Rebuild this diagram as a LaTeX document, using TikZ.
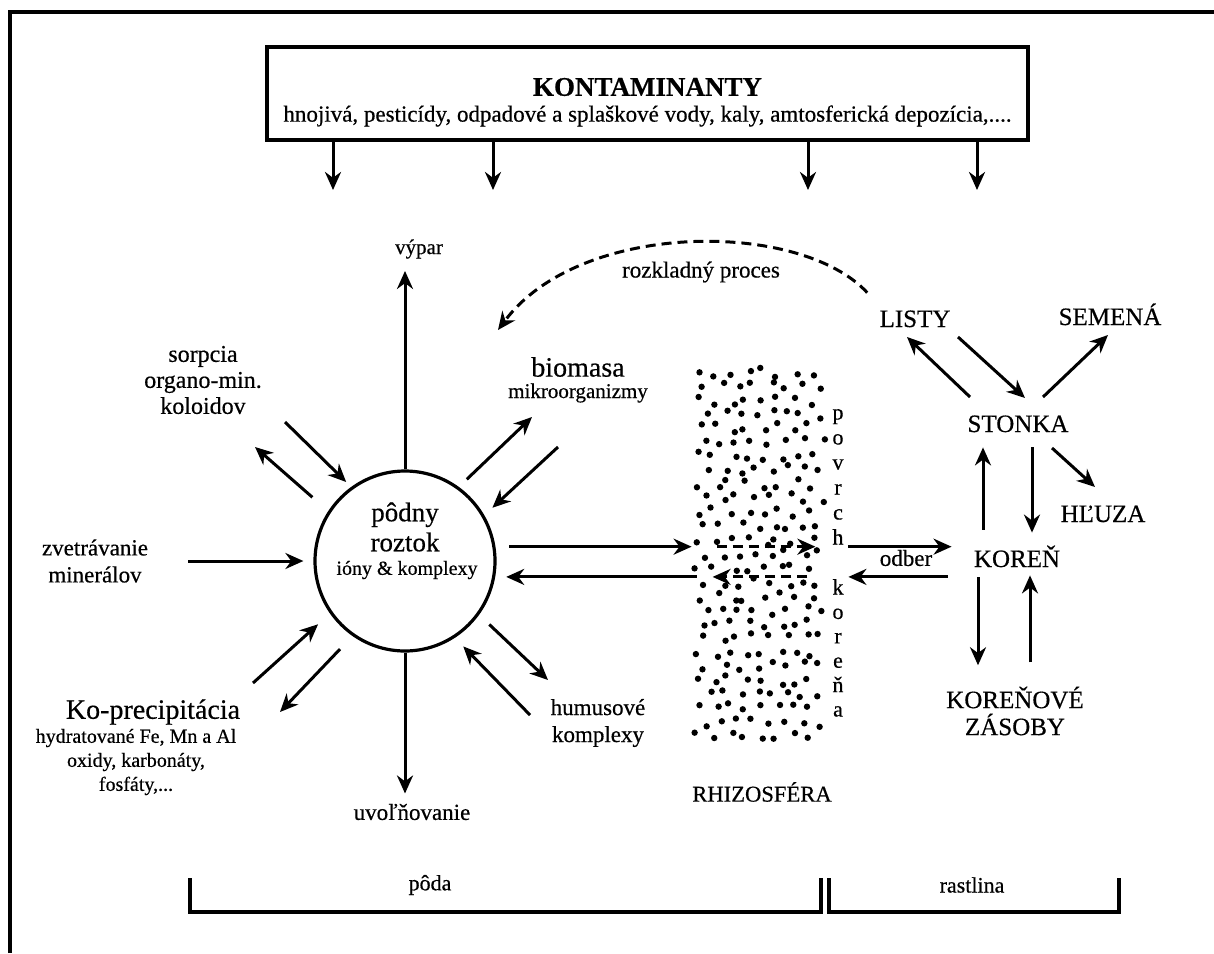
\documentclass[tikz,border=0pt]{standalone}
\usepackage{fontspec}
\setmainfont{Liberation Serif}[FakeBold=0.5]
\usetikzlibrary{arrows.meta,positioning}

\begin{document}
\begin{tikzpicture}[x=0.5pt,y=-0.5pt,
  txt/.style={align=center, inner sep=1pt, font=\fontsize{11.5}{13.5}\selectfont},
  bigtxt/.style={align=center, inner sep=1pt, font=\fontsize{14}{16}\selectfont},
  smalltxt/.style={align=center, inner sep=1pt, font=\fontsize{10}{12}\selectfont},
  plant/.style={font=\fontsize{12.5}{14}\selectfont, inner sep=0pt, text height=9pt, text depth=0pt},
  vletter/.style={font=\fontsize{11}{12}\selectfont, inner sep=0pt, text height=4.5pt, text depth=0pt},
  arr/.style={-{Stealth[length=9pt,width=8pt]}, line width=1.5pt},
  darr/.style={arr, dash pattern=on 5pt off 3pt},
  bracket/.style={line width=1.7pt}
]
\useasboundingbox (0,0) rectangle (1214,953);
% frame
\draw[line width=2.4pt] (10,953) -- (10,12) -- (1214,12);

% contaminants
\node[draw, line width=1.6pt, minimum width=380.5pt, minimum height=46.5pt] (cont) at (647.5,93.5) {};
\node[font=\fontsize{13.5}{15}\selectfont\bfseries] (kont) at (647.5,87) {KONTAMINANTY};
\node[font=\fontsize{11.5}{13}\selectfont] (kontsub) at (647.5,116) {hnojivá, pesticídy, odpadové a splaškové vody, kaly, amtosferická depozícia,....};
\foreach \x [count=\i] in {333,493,808,977}{
  \coordinate (in\i) at (\x,190);
  \draw[arr] (cont.south -| in\i) -- (in\i);
}

% soil solution
\node[circle, draw, line width=1.6pt, minimum size=90pt, inner sep=0pt] (sol) at (405,561) {};
\node[bigtxt, font=\fontsize{13.5}{15}\selectfont] (soltxt) at (405,527) {pôdny\\roztok};
\node[smalltxt] (ions) at (407,570) {ióny \& komplexy};

% soil processes
\node[txt, font=\fontsize{10.5}{12}\selectfont] (vypar) at (419,249) {výpar};
\node[txt, font=\fontsize{12}{13}\selectfont] (sorp) at (203,380) {sorpcia\\organo-min.\\koloidov};
\node[txt] (zvet) at (95,561) {zvetrávanie\\minerálov};
\node[bigtxt] (kopre) at (153,712) {Ko-precipitácia};
\node[smalltxt] (kopsub) at (136,762) {hydratované Fe, Mn a Al\\oxidy, karbonáty,\\fosfáty,...};
\node[bigtxt] (biom) at (578,367) {biomasa};
\node[smalltxt, font=\fontsize{10.5}{12}\selectfont] (mikro) at (578,393) {mikroorganizmy};
\node[txt] (humus) at (598,723) {humusové\\komplexy};
\node[txt] (uvol) at (412,812) {uvoľňovanie};
\node[txt] (rozk) at (701,272) {rozkladný proces};

\coordinate (sorpin) at (285,422);
\coordinate (sorpout) at (255,447);
\coordinate (zvetin) at (188,561);
\coordinate (kopin) at (253,683);
\coordinate (kopout) at (280,712);
\coordinate (humin) at (530,715);
\coordinate (humout) at (548,680);
\coordinate (bioout) at (532,417);
\coordinate (bioin) at (558,447);

\draw[arr, shorten >=5pt] (sol.north) -- (sol.north |- vypar.south);
\draw[arr, shorten >=3.5pt] (sorpin) -- (sol.126);
\draw[arr, shorten <=10.5pt] (sol.147) -- (sorpout);
\draw[arr, shorten >=5pt] (zvetin) -- (sol.west);
\draw[arr, shorten >=8pt] (kopin) -- (sol.215);
\draw[arr, shorten <=9pt] (sol.235) -- (kopout);
\draw[arr, shorten >=4pt] (sol.south) -- (sol.south |- uvol.north);
\draw[arr, shorten >=6pt] (humin) -- (sol.303);
\draw[arr, shorten <=7pt] (sol.324) -- (humout);
\draw[arr, shorten <=5.5pt] (sol.54) -- (bioout);
\draw[arr, shorten >=5.5pt] (bioin) -- (sol.30);

% rhizosphere
\node[minimum width=65pt, minimum height=189pt, inner sep=0pt] (rhizo) at (762,556) {};
\pgfmathsetseed{42}
\foreach \r in {0,...,26}{
  \foreach \c in {0,...,7}{
    \fill ({699+\c*16+mod(\r,2)*8+6*rand},{372+\r*14+5*rand}) circle[radius=1.6pt];
  }
}
\node[txt, font=\fontsize{11.3}{13}\selectfont] (rhizolab) at (762,792) {RHIZOSFÉRA};
\foreach \ch [count=\i] in {p,o,v,r,c,h}
  \node[vletter] (pv\i) at (838,{415+25*(\i-1)}) {\ch};
\foreach \ch [count=\i] in {k,o,r,e,ň,a}
  \node[vletter] (kr\i) at (838,{590+24.4*(\i-1)}) {\ch};

\draw[arr, shorten <=7pt, shorten >=2.5pt] (sol.9) -- (rhizo.west |- sol.9);
\draw[arr, shorten >=5.5pt] (rhizo.west |- sol.350) -- (sol.350);
\draw[darr, shorten <=10pt, shorten >=6pt] (rhizo.west |- sol.9) -- (rhizo.east |- sol.9);
\draw[darr, shorten <=10pt, shorten >=8pt] (rhizo.east |- sol.350) -- (rhizo.west |- sol.350);

% plant
\node[plant] (listy) at (915,318) {LISTY};
\node[plant] (semena) at (1110,316) {SEMENÁ};
\node[plant] (stonka) at (1018,423) {STONKA};
\node[plant] (hluza) at (1103,513) {HĽUZA};
\node[plant] (koren) at (1017,558) {KOREŇ};
\node[txt, font=\fontsize{12.5}{13.5}\selectfont] (zasoby) at (1015,711) {KOREŇOVÉ\\ZÁSOBY};
\node[txt] (odber) at (906,558) {odber};

\draw[arr, shorten <=10.5pt, shorten >=11pt] (rhizo.east |- sol.9) -- (koren.west |- sol.9);
\draw[arr, shorten <=13pt, shorten >=10.5pt] (koren.west |- sol.350) -- (rhizo.east |- sol.350);

\coordinate (xl) at (983,0);
\coordinate (xr) at (1032,0);
\coordinate (zl) at (978,0);
\coordinate (zr) at (1030,0);
\draw[arr, shorten <=9.5pt, shorten >=7.5pt] (koren.north -| xl) -- (stonka.south -| xl);
\draw[arr, shorten <=7.5pt, shorten >=8pt] (stonka.south -| xr) -- (koren.north -| xr);
\draw[arr, shorten <=5pt, shorten >=9.5pt] (koren.south -| zl) -- (zasoby.north -| zl);
\draw[arr, shorten <=11pt, shorten >=4pt] (zasoby.north -| zr) -- (koren.south -| zr);

\coordinate (lfA) at (970,397);
\coordinate (lfB) at (907,337);
\coordinate (lfC) at (958,337);
\coordinate (lfD) at (1025,398);
\coordinate (smA) at (1043,397);
\coordinate (smB) at (1108,335);
\coordinate (hlA) at (1052,448);
\coordinate (hlB) at (1095,487);
\draw[arr] (lfA) -- (lfB);
\draw[arr] (lfC) -- (lfD);
\draw[arr] (smA) -- (smB);
\draw[arr] (hlA) -- (hlB);

% decay back to the soil
\coordinate (decay) at (498,330);
\draw[darr] ([xshift=-6pt,yshift=8pt]listy.north west) .. controls (800,220) and (580,220) .. (decay);

% soil / plant brackets
\node[txt, font=\fontsize{11}{13}\selectfont] (poda) at (430,885) {pôda};
\node[txt, font=\fontsize{11}{13}\selectfont] (rastlina) at (972,885) {rastlina};
\draw[bracket] (190,878) -- (190,912) -- (821,912) -- (821,878);
\draw[bracket] (829,878) -- (829,912) -- (1119,912) -- (1119,878);
\end{tikzpicture}
\end{document}
